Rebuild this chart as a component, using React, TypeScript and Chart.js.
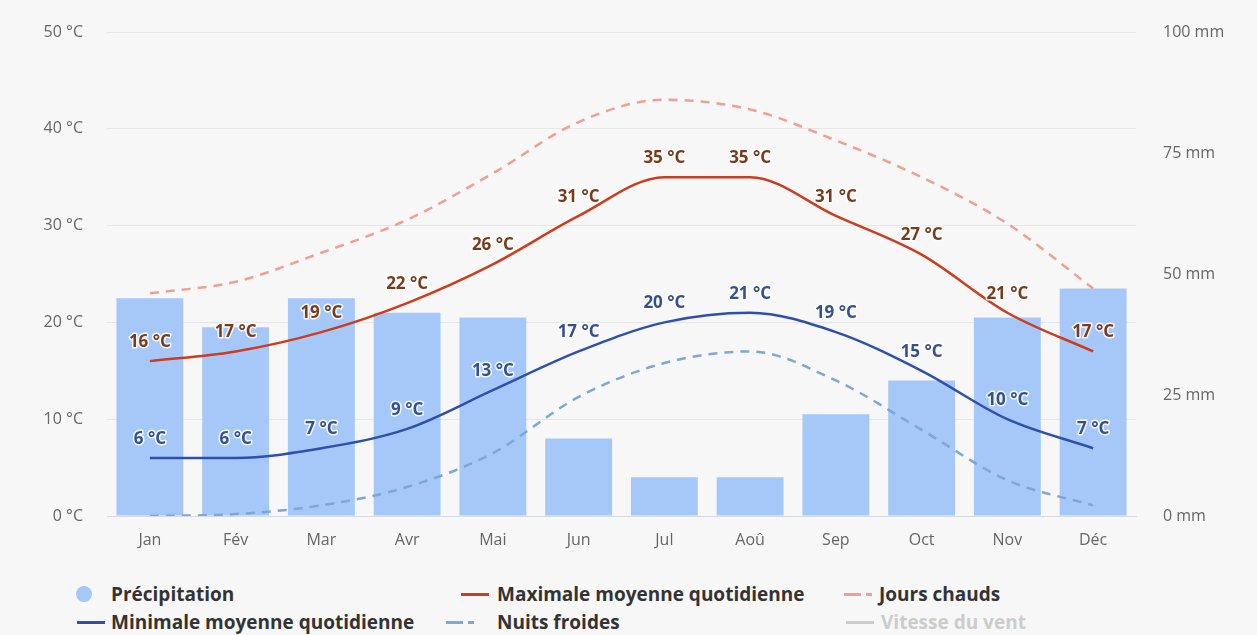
import React, { useEffect, useRef } from "react";
import { Chart, registerables } from "chart.js";

Chart.register(...registerables);

const months = ["Jan", "Fév", "Mar", "Avr", "Mai", "Jun", "Jul", "Aoû", "Sep", "Oct", "Nov", "Déc"];
const precipitation = [45, 39, 45, 42, 41, 16, 8, 8, 21, 28, 41, 47];
const maxTemp = [16, 17, 19, 22, 26, 31, 35, 35, 31, 27, 21, 17];
const minTemp = [6, 6, 7, 9, 13, 17, 20, 21, 19, 15, 10, 7];
const hotDays = [23, 24.2, 27.2, 30.6, 35.4, 40.7, 43, 42, 38.8, 35, 30.2, 23.5];
const coldNights = [0, 0.2, 1.1, 3, 6.5, 12.3, 15.8, 17, 14, 8.9, 3.7, 1.1];
const tempTicks = [0, 10, 20, 30, 40, 50];
const rainTicks = [0, 25, 50, 75, 100];

const COLORS = {
  bar: "#a5c8f9",
  max: "#cc3c1e",
  min: "#2f4fae",
  hot: "#f0a090",
  cold: "#7ea7d4",
  wind: "#cccccc",
  maxLabel: "#7a3b1c",
  minLabel: "#34508f",
};

const FONT = '"Open Sans", "DejaVu Sans", sans-serif';

const labelPlugin = {
  id: "valueLabels",
  afterDatasetsDraw(chart: any) {
    const ctx = chart.ctx;
    const targets = [
      { index: 1, color: COLORS.maxLabel },
      { index: 2, color: COLORS.minLabel },
    ];
    targets.forEach((t) => {
      const meta = chart.getDatasetMeta(t.index);
      const data = chart.data.datasets[t.index].data;
      meta.data.forEach((pt: any, j: number) => {
        const txt = data[j] + " °C";
        ctx.save();
        ctx.font = "bold 17px " + FONT;
        ctx.textAlign = "center";
        ctx.textBaseline = "middle";
        ctx.lineJoin = "round";
        ctx.lineWidth = 3;
        ctx.strokeStyle = "rgba(255,255,255,0.85)";
        ctx.strokeText(txt, pt.x, pt.y - 19);
        ctx.fillStyle = t.color;
        ctx.fillText(txt, pt.x, pt.y - 19);
        ctx.restore();
      });
    });
  },
};

function LegendItem(props: { x: number; y: number; icon: string; color: string; text: string; textX: number; textColor?: string }) {
  const { x, y, icon, color, text, textX, textColor } = props;
  let iconEl: any = null;
  if (icon === "circle") {
    iconEl = <div style={{ position: "absolute", left: x, top: y - 8, width: 16, height: 16, borderRadius: 8, background: color }} />;
  } else if (icon === "line") {
    iconEl = <div style={{ position: "absolute", left: x, top: y - 1.5, width: 28, height: 3, background: color }} />;
  } else {
    iconEl = (
      <>
        <div style={{ position: "absolute", left: x, top: y - 1.5, width: 17, height: 3, background: color }} />
        <div style={{ position: "absolute", left: x + 22, top: y - 1.5, width: 6, height: 3, background: color }} />
      </>
    );
  }
  return (
    <>
      {iconEl}
      <div
        style={{
          position: "absolute",
          left: textX,
          top: y - 13,
          whiteSpace: "nowrap",
          fontFamily: FONT,
          fontWeight: 700,
          fontSize: 19,
          lineHeight: "26px",
          color: textColor || "#333333",
        }}
      >
        {text}
      </div>
    </>
  );
}

export default function App() {
  const canvasRef = useRef<HTMLCanvasElement | null>(null);

  useEffect(() => {
    if (!canvasRef.current) return;
    const tickFont = { family: FONT, size: 16 };
    const chart = new Chart(canvasRef.current, {
      type: "bar",
      data: {
        labels: months,
        datasets: [
          {
            type: "bar",
            label: "Précipitation",
            data: precipitation,
            backgroundColor: COLORS.bar,
            yAxisID: "y1",
            barPercentage: 0.78,
            categoryPercentage: 1,
            order: 10,
          } as any,
          {
            type: "line",
            label: "Maximale moyenne quotidienne",
            data: maxTemp,
            borderColor: COLORS.max,
            borderWidth: 2.5,
            pointRadius: 0,
            cubicInterpolationMode: "monotone",
            yAxisID: "y",
            order: 2,
          },
          {
            type: "line",
            label: "Minimale moyenne quotidienne",
            data: minTemp,
            borderColor: COLORS.min,
            borderWidth: 2.5,
            pointRadius: 0,
            cubicInterpolationMode: "monotone",
            yAxisID: "y",
            order: 1,
          },
          {
            type: "line",
            label: "Jours chauds",
            data: hotDays,
            borderColor: COLORS.hot,
            borderWidth: 2.5,
            borderDash: [9, 7],
            pointRadius: 0,
            cubicInterpolationMode: "monotone",
            yAxisID: "y",
            order: 4,
          },
          {
            type: "line",
            label: "Nuits froides",
            data: coldNights,
            borderColor: COLORS.cold,
            borderWidth: 2.5,
            borderDash: [9, 7],
            pointRadius: 0,
            cubicInterpolationMode: "monotone",
            yAxisID: "y",
            order: 3,
          },
        ],
      },
      options: {
        responsive: false,
        animation: false,
        layout: { autoPadding: false, padding: { top: 32, left: 0, right: 0, bottom: 0 } },
        plugins: { legend: { display: false }, tooltip: { enabled: false } },
        scales: {
          x: {
            grid: { display: false, drawTicks: false },
            border: { display: true, color: "#d5d9e0", width: 1 },
            ticks: { color: "#666666", font: tickFont, padding: 15 },
            afterFit: (s: any) => {
              s.height = 44;
            },
          },
          y: {
            position: "left",
            min: 0,
            max: 50,
            afterBuildTicks: (s: any) => {
              s.ticks = tempTicks.map((v) => ({ value: v }));
            },
            ticks: { color: "#666666", font: tickFont, padding: 0, callback: (v: any) => v + " °C" },
            grid: { color: "#e6e6e6", drawTicks: true, tickLength: 24, tickColor: "rgba(0,0,0,0)" },
            border: { display: false },
            afterFit: (s: any) => {
              s.width = 107;
            },
          },
          y1: {
            position: "right",
            min: 0,
            max: 100,
            afterBuildTicks: (s: any) => {
              s.ticks = rainTicks.map((v) => ({ value: v }));
            },
            ticks: { color: "#666666", font: tickFont, padding: 0, callback: (v: any) => v + " mm" },
            grid: { display: true, drawOnChartArea: false, drawTicks: true, tickLength: 27, tickColor: "rgba(0,0,0,0)" },
            border: { display: false },
            afterFit: (s: any) => {
              s.width = 121;
            },
          },
        },
      },
      plugins: [labelPlugin],
    } as any);
    return () => chart.destroy();
  }, []);

  return (
    <div style={{ position: "absolute", left: 0, top: 0, width: 1257, height: 635, background: "#f7f7f7", overflow: "hidden" }}>
      <canvas ref={canvasRef} width={1257} height={560} style={{ position: "absolute", left: 0, top: 0, width: 1257, height: 560 }} />
      <LegendItem x={76} y={594} icon="circle" color={COLORS.bar} text="Précipitation" textX={111} />
      <LegendItem x={461} y={594} icon="line" color={COLORS.max} text="Maximale moyenne quotidienne" textX={497} />
      <LegendItem x={844} y={594} icon="dash" color={COLORS.hot} text="Jours chauds" textX={879} />
      <LegendItem x={77} y={622} icon="line" color={COLORS.min} text="Minimale moyenne quotidienne" textX={111} />
      <LegendItem x={446} y={622} icon="dash" color={COLORS.cold} text="Nuits froides" textX={497} />
      <LegendItem x={846} y={622} icon="line" color={COLORS.wind} text="Vitesse du vent" textX={881} textColor="#cccccc" />
    </div>
  );
}
